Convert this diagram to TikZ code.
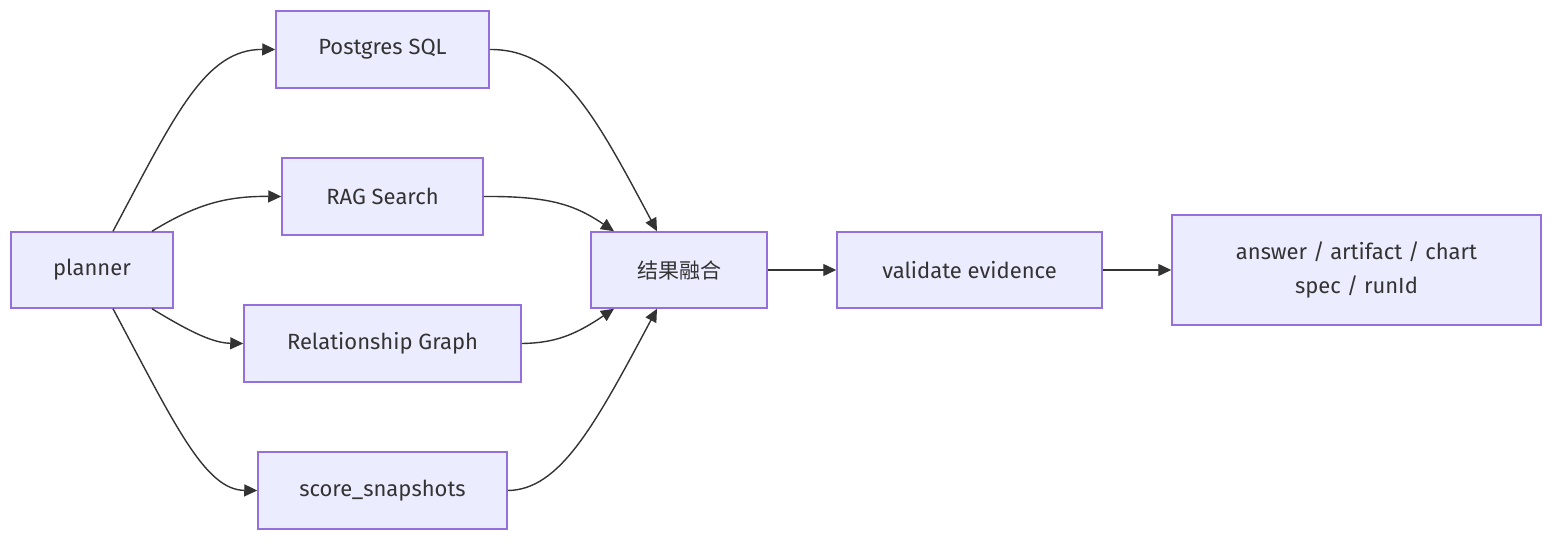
\documentclass[tikz,border=0pt]{standalone}
\usepackage{fontspec}
\setmainfont{Fira Sans}
\newfontfamily\cjk{Noto Sans CJK SC}
\usetikzlibrary{arrows.meta}
\definecolor{boxfill}{HTML}{ECECFF}
\definecolor{boxline}{HTML}{9370DB}
\definecolor{ink}{HTML}{333333}
\tikzset{
  box/.style={draw=boxline, fill=boxfill, line width=1.5pt, inner sep=0pt, anchor=center,
    text=ink, font=\fontsize{22}{34}\selectfont, align=center},
  link/.style={draw=ink, line width=1.4pt, -{Triangle[length=13pt,width=12pt]}},
}
\begin{document}
\begin{tikzpicture}[x=1pt,y=-1pt]
\useasboundingbox (0,0) rectangle (1568,548);
\node[box, minimum width=162, minimum height=76] (planner) at (92,270) {planner};
\node[box, minimum width=213, minimum height=77] (pg) at (382.5,49.5) {Postgres SQL};
\node[box, minimum width=201, minimum height=77] (rag) at (382.5,196.5) {RAG Search};
\node[box, minimum width=277, minimum height=77] (rel) at (382.5,343.5) {Relationship Graph};
\node[box, minimum width=249, minimum height=77] (score) at (382.5,490.5) {score\_snapshots};
\node[box, minimum width=176, minimum height=76] (fusion) at (679,270) {\cjk\fontsize{21}{30}\selectfont 结果融合};
\node[box, minimum width=265, minimum height=76] (valid) at (969.5,270) {validate evidence};
\node[box, minimum width=369, minimum height=110] (answer) at (1356.5,270) {answer / artifact / chart\\spec / runId};

\draw[link] ([xshift=21pt]planner.north) .. controls (175,115) and (205,49) .. (pg.west);
\draw[link] ([xshift=60pt]planner.north) .. controls (195,205) and (225,196) .. (rag.west);
\draw[link] ([xshift=60pt]planner.south) .. controls (195,335) and (215,343) .. (rel.west);
\draw[link] ([xshift=21pt]planner.south) .. controls (175,425) and (205,490) .. (score.west);

\draw[link] (pg.east) .. controls (560,49) and (595,115) .. ([xshift=-22pt]fusion.north);
\draw[link] (rag.east) .. controls (550,196) and (575,205) .. ([xshift=-65pt]fusion.north);
\draw[link] (rel.east) .. controls (555,343) and (575,335) .. ([xshift=-65pt]fusion.south);
\draw[link] (score.east) .. controls (560,490) and (595,425) .. ([xshift=-22pt]fusion.south);

\draw[link] (fusion.east) -- (valid.west);
\draw[link] (valid.east) -- (answer.west);
\end{tikzpicture}
\end{document}
